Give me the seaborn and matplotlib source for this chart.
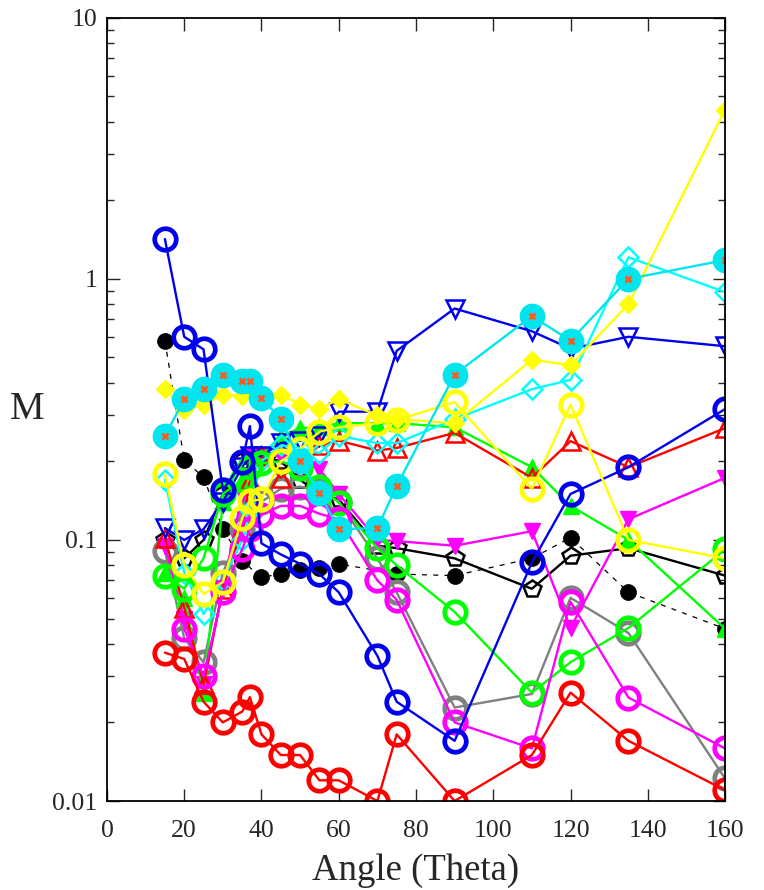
import matplotlib
matplotlib.use("Agg")
import matplotlib.pyplot as plt
import numpy as np
import seaborn as sns
from matplotlib.ticker import LogLocator, NullFormatter, FixedLocator

# x positions (degrees)
X_ALL = [15, 20, 25, 30, 35, 37, 40, 45, 50, 55, 60, 70, 75, 90, 110, 120, 135, 160]
X_NO37 = [15, 20, 25, 30, 35, 40, 45, 50, 55, 60, 70, 75, 90, 110, 120, 135, 160]

red_circ = [0.037, 0.035, 0.024, 0.020, 0.022, 0.025, 0.018, 0.015, 0.015, 0.012, 0.012,
            0.010, 0.018, 0.010, 0.015, 0.026, 0.017, 0.011]
blue_circ = [1.42, 0.60, 0.537, 0.155, 0.199, 0.273, 0.097, 0.088, 0.081, 0.074, 0.063,
             0.036, 0.024, 0.017, 0.082, 0.15, 0.19, 0.317]
cyan_circ = [0.25, 0.346, 0.38, 0.428, 0.405, 0.405, 0.35, 0.29, 0.20, 0.151, 0.11,
             0.111, 0.161, 0.43, 0.72, 0.58, 1.0, 1.18]
yellow_diam = [0.378, 0.314, 0.33, 0.36, 0.355, 0.355, 0.36, 0.33, 0.318, 0.346,
               0.30, 0.29, 0.28, 0.49, 0.467, 0.80, 4.45]
yellow_circ = [0.179, 0.080, 0.062, 0.069, 0.121, 0.141, 0.143, 0.20, 0.223, 0.26, 0.27,
               0.28, 0.288, 0.337, 0.157, 0.33, 0.10, 0.085]
cyan_diam = [0.17, 0.075, 0.052, 0.07, 0.10, 0.13, 0.20, 0.23, 0.225, 0.215, 0.25,
             0.235, 0.235, 0.29, 0.378, 0.41, 1.21, 0.89]
blue_tri = [0.111, 0.10, 0.11, 0.14, 0.19, 0.21, 0.21, 0.235, 0.24, 0.25, 0.31,
            0.31, 0.53, 0.77, 0.63, 0.54, 0.60, 0.552]
red_tri = [0.102, 0.055, 0.028, 0.065, 0.11, 0.17, 0.21, 0.173, 0.20, 0.23, 0.24,
           0.22, 0.225, 0.257, 0.173, 0.239, 0.19, 0.268]
green_tri = [0.075, 0.06, 0.026, 0.14, 0.17, 0.19, 0.21, 0.25, 0.268, 0.27, 0.28,
             0.28, 0.28, 0.27, 0.19, 0.135, 0.10, 0.0457]
magenta_tri = [0.095, 0.05, 0.028, 0.065, 0.15, 0.21, 0.21, 0.21, 0.20, 0.187, 0.15,
               0.10, 0.099, 0.095, 0.108, 0.046, 0.12, 0.173]
black_pent = [0.10, 0.085, 0.10, 0.15, 0.20, 0.21, 0.21, 0.20, 0.17, 0.15, 0.143,
              0.095, 0.093, 0.085, 0.065, 0.087, 0.093, 0.073]
gray_circ = [0.091, 0.042, 0.034, 0.075, 0.11, 0.13, 0.14, 0.157, 0.16, 0.155, 0.14,
             0.085, 0.063, 0.0228, 0.0257, 0.06, 0.044, 0.0122]
green_circ = [0.073, 0.065, 0.085, 0.15, 0.17, 0.19, 0.197, 0.20, 0.188, 0.16, 0.139,
              0.093, 0.08, 0.053, 0.026, 0.034, 0.046, 0.092]
X_MAG = [20, 25, 30, 35, 37, 40, 45, 50, 55, 60, 70, 75, 90, 110, 120, 135, 160]
magenta_circ = [0.0457, 0.030, 0.063, 0.092, 0.11, 0.125, 0.135, 0.135, 0.126, 0.12,
                0.07, 0.059, 0.020, 0.0159, 0.058, 0.0249, 0.0159]
X_BLK = [15, 20, 25, 30, 35, 40, 45, 50, 55, 60, 75, 90, 110, 120, 135, 160]
black_dot = [0.58, 0.202, 0.174, 0.11, 0.083, 0.072, 0.074, 0.077, 0.078, 0.081,
             0.074, 0.073, 0.085, 0.102, 0.063, 0.0457]

sns.set_style("ticks")
plt.rcParams["font.family"] = ["Liberation Serif", "DejaVu Serif"]

fig = plt.figure(figsize=(7.64, 8.9), dpi=100)
ax = fig.add_axes([0.140, 0.100, 0.809, 0.880])

BIG = 15.5
EW = 3.4
LW = 1.7
YEL = "#ffff00"
GRN = "#00ff00"
BLU = "#0000ee"


def draw(x, y, color, marker, ms=BIG, mfc="none", mew=EW, ls="-", lw=LW, mec=None):
    sns.lineplot(x=x, y=y, ax=ax, color=color, marker=marker, markersize=ms,
                 markerfacecolor=mfc, markeredgecolor=mec or color,
                 markeredgewidth=mew, linestyle=ls, linewidth=lw, sort=False,
                 estimator=None, legend=False)


draw(X_BLK, black_dot, "black", "o", ms=11.5, mfc="black", mew=0.5, ls=(0, (4, 5)), lw=0.9)
draw(X_ALL, black_pent, "black", "p", ms=13, mew=1.8)
draw(X_ALL, gray_circ, "#808080", "o")
draw(X_ALL, magenta_tri, "magenta", "v", ms=12, mfc="magenta", mew=1)
draw(X_ALL, green_tri, GRN, "^", ms=12, mfc=GRN, mew=1)
draw(X_ALL, red_tri, "red", "^", ms=13, mew=1.8)
draw(X_ALL, blue_tri, BLU, "v", ms=13, mew=1.8)
draw(X_ALL, cyan_diam, "cyan", "D", ms=10, mew=1.8)
draw(X_NO37, yellow_diam, YEL, "D", ms=9, mfc=YEL, mew=1)
draw(X_ALL, green_circ, GRN, "o")
draw(X_MAG, magenta_circ, "magenta", "o")
draw(X_ALL, blue_circ, BLU, "o")
draw(X_ALL, yellow_circ, YEL, "o")
draw(X_ALL, cyan_circ, "#00e5ee", "o", ms=BIG + 2, mfc="#00e5ee", mew=1)
ax.plot(X_ALL, cyan_circ, linestyle="none", marker="x", markersize=5,
        markeredgewidth=2, color="#ff5a1f")
draw(X_ALL, red_circ, "red", "o")

ax.set_yscale("log")
ax.set_ylim(0.01, 10)
ax.set_xlim(0, 160)
ax.xaxis.set_major_locator(FixedLocator(np.arange(0, 161, 20)))
ax.set_yticks([0.01, 0.1, 1, 10])
ax.set_yticklabels(["0.01", "0.1", "1", "10"])
ax.yaxis.set_minor_locator(LogLocator(base=10, subs=np.arange(2, 10)))
ax.yaxis.set_minor_formatter(NullFormatter())
ax.tick_params(which="both", direction="in", top=True, right=True, labelsize=18.5,
               width=1)
ax.tick_params(which="major", length=9)
ax.tick_params(axis="x", which="major", pad=14)
ax.tick_params(axis="y", which="major", pad=7)
ax.tick_params(which="minor", length=5)
for s in ax.spines.values():
    s.set_linewidth(1.3)
    s.set_color("black")

ax.set_xlabel("Angle (Theta)", fontsize=26.5, labelpad=8)
ax.set_ylabel("M", fontsize=28, rotation=0, labelpad=18, va="center")

fig.savefig("out.png", dpi=100)
